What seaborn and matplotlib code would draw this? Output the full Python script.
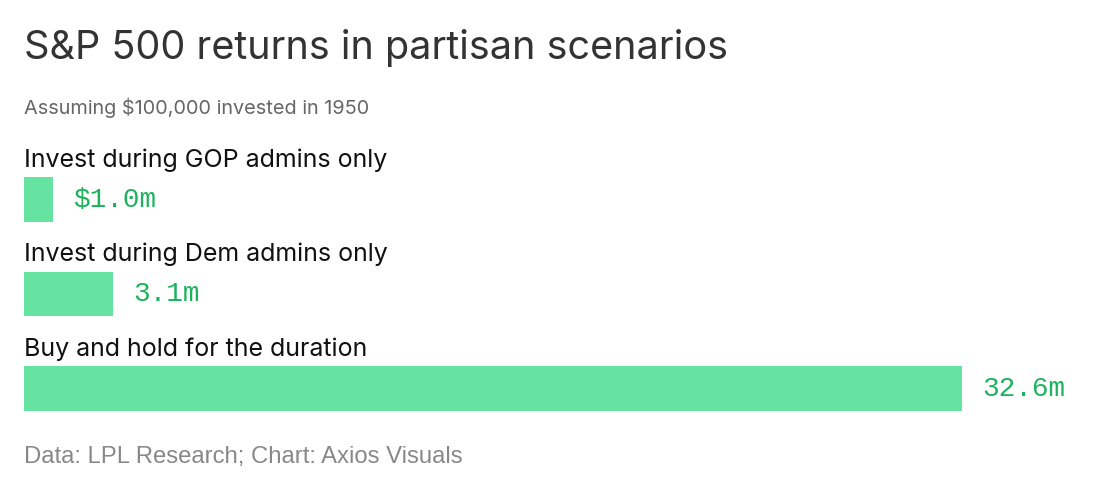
import matplotlib
matplotlib.use("Agg")
import matplotlib.pyplot as plt
import seaborn as sns
import pandas as pd

categories = ["Invest during GOP admins only", "Invest during Dem admins only", "Buy and hold for the duration"]
values = [1.0, 3.1, 32.6]
value_labels = ["$1.0m", "3.1m", "32.6m"]

W, H = 1100, 488
sns.set_theme(style="white")
plt.rcParams['font.family'] = ['Inter', 'DejaVu Sans']

fig = plt.figure(figsize=(W / 100, H / 100), dpi=100)
fig.patch.set_facecolor("white")

px_per_unit = 938 / 32.6
left_px = 24
ax = fig.add_axes([left_px / W, 1 - 435.75 / H, (W - left_px) / W, (435.75 - 152.25) / H])

df = pd.DataFrame({"category": categories, "value": values})
sns.barplot(data=df, x="value", y="category", orient="h", color="#67E3A1",
            saturation=1, width=0.476, linewidth=0, ax=ax)
ax.set_xlim(0, (W - left_px) / px_per_unit)
ax.set_ylim(2.5, -0.5)
ax.axis("off")

for i, (cat, v, lab) in enumerate(zip(categories, values, value_labels)):
    ax.text(0, i - 0.42, cat, ha="left", va="center", fontsize=18, color="#111111",
            family=["Inter", "DejaVu Sans"])
    ax.annotate(lab, xy=(v, i), xytext=(14.5, 0), textcoords="offset points",
                ha="left", va="center", fontsize=20, color="#1DB35E",
                family=["Liberation Mono", "DejaVu Sans Mono"])

fig.text(left_px / W, 1 - 48 / H, "S&P 500 returns in partisan scenarios", ha="left", va="center",
         fontsize=28.5, color="#333333", family=["Inter", "DejaVu Sans"])
fig.text(left_px / W, 1 - 108 / H, "Assuming $100,000 invested in 1950", ha="left", va="center",
         fontsize=14.3, color="#666666", family=["Inter", "DejaVu Sans"])
fig.text(left_px / W, 1 - 457 / H, "Data: LPL Research; Chart: Axios Visuals", ha="left", va="center",
         fontsize=17.2, color="#888888", family=["Liberation Sans", "DejaVu Sans"])

fig.savefig("out.png", dpi=100, facecolor="white")
